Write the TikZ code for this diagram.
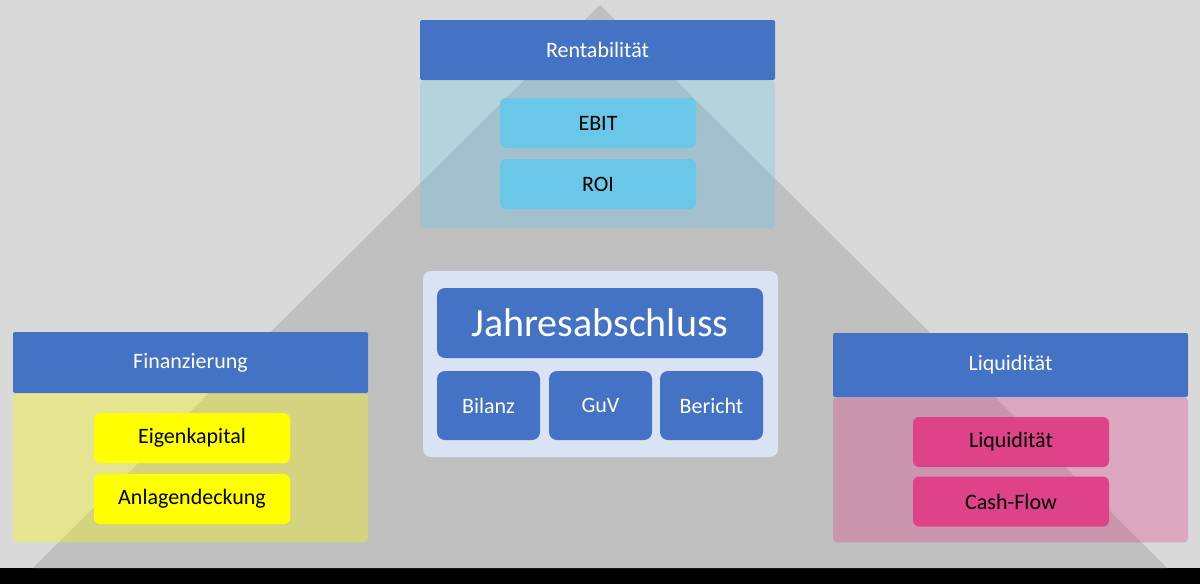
\documentclass[tikz,border=0pt]{standalone}
\usepackage{fontspec}
\setmainfont{Carlito}
\usetikzlibrary{positioning}
\definecolor{bgray}{HTML}{D9D9D9}
\definecolor{pyramid}{HTML}{BFBFBF}
\definecolor{headblue}{HTML}{4472C4}
\definecolor{core}{HTML}{DAE3F3}
\definecolor{sky}{HTML}{6BC7E8}
\definecolor{lemon}{HTML}{FFFF00}
\definecolor{rose}{HTML}{DE438A}

\begin{document}
\begin{tikzpicture}[
    x=1pt, y=-1pt,
    node distance=0pt,
    header/.style={rectangle, fill=headblue, text=white, rounded corners=2pt,
        minimum width=355pt, inner sep=0pt, font=\fontsize{22}{26}\selectfont},
    panel/.style={rectangle, fill=#1, fill opacity=0.33, rounded corners=4pt,
        minimum width=355pt, inner sep=0pt},
    item/.style={rectangle, fill=#1, text=black, rounded corners=6pt,
        minimum width=196pt, minimum height=50pt, inner sep=0pt,
        font=\fontsize{22}{26}\selectfont},
    block/.style={rectangle, fill=headblue, text=white, rounded corners=8pt,
        minimum width=103pt, minimum height=69pt, inner sep=0pt,
        font=\fontsize{22}{26}\selectfont}
]
\useasboundingbox (0,0) rectangle (1200,584);

% Background and pyramid
\fill[bgray] (0,0) rectangle (1200,568);
\fill[black] (0,568) rectangle (1200,584);
\fill[pyramid] (600,5) -- (1167,568) -- (33,568) -- cycle;

% Rentabilitaet (top)
\node[header, minimum height=60pt] (rent) at (597.5,50) {Rentabilität};
\node[panel=sky, minimum height=148pt, below=of rent] (rentbody) {};
\node[item=sky] (ebit) at (598,123) {EBIT};
\node[item=sky] (roi) at (598,184) {ROI};

% Finanzierung (left)
\node[header, minimum height=61pt] (fin) at (190.5,362.5) {Finanzierung};
\node[panel=lemon, minimum height=149pt, below=of fin] (finbody) {};
\node[item=lemon] (ek) at (192,438) {Eigenkapital};
\node[item=lemon] (ad) at (192,499) {Anlagendeckung};

% Liquiditaet (right)
\node[header, minimum height=64pt] (liq) at (1010.5,365) {Liquidität};
\node[panel=rose, minimum height=145pt, below=of liq] (liqbody) {};
\node[item=rose] (liqgrad) at (1011,442) {Liquidität};
\node[item=rose] (cf) at (1011,501.5) {Cash-Flow};

% Jahresabschluss (centre)
\node[rectangle, fill=core, rounded corners=8pt, minimum width=355pt,
    minimum height=186pt] (ja) at (600.5,364) {};
\node[block, minimum width=326pt, minimum height=70pt,
    font=\fontsize{40}{48}\selectfont] (jahr) at (600,323) {Jahresabschluss};
\node[block] (bil) at (488.5,405.5) {Bilanz};
\node[block] (guv) at (600.5,405.5) {GuV};
\node[block] (ber) at (711.5,405.5) {Bericht};

\end{tikzpicture}
\end{document}
